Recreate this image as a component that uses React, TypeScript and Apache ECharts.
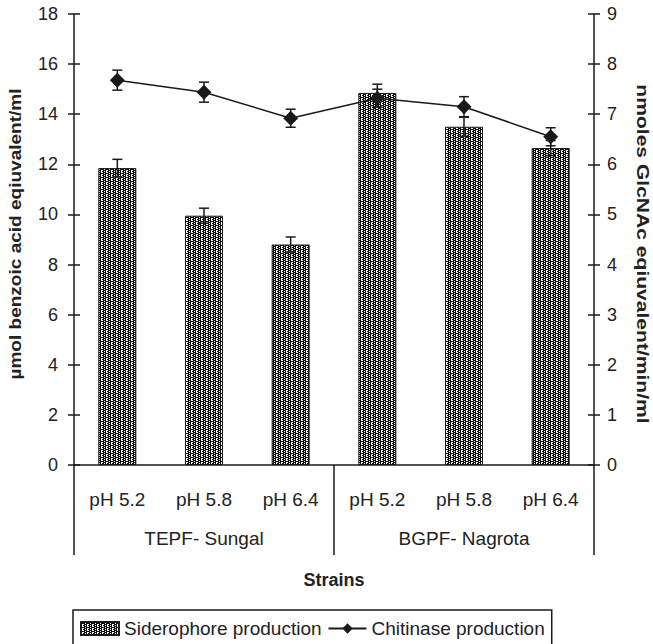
import React, { useEffect, useRef } from "react";
import * as echarts from "echarts";

const categories = ["pH 5.2", "pH 5.8", "pH 6.4", "pH 5.2", "pH 5.8", "pH 6.4"];
const groups = ["TEPF- Sungal", "BGPF- Nagrota"];
const siderophore = [11.85, 9.95, 8.8, 14.85, 13.5, 12.65];
const siderophoreErr = [0.35, 0.3, 0.3, 0.35, 0.38, 0.3];
const chitinase = [7.68, 7.44, 6.92, 7.32, 7.15, 6.55];
const chitinaseErr = [0.2, 0.2, 0.18, 0.18, 0.2, 0.18];

const leftTitle = "µmol benzoic acid eqiuvalent/ml";
const rightTitle = "nmoles GlcNAc eqiuvalent/min/ml";
const FONT = "Arial, 'Liberation Sans', sans-serif";
const INK = "#1a1a1a";

function makePattern(): HTMLCanvasElement {
  const c = document.createElement("canvas");
  c.width = 5;
  c.height = 4;
  const ctx = c.getContext("2d")!;
  ctx.fillStyle = "#0d0d0d";
  ctx.fillRect(0, 0, 5, 4);
  ctx.fillStyle = "#fff";
  const white = [
    [1, 0], [1, 2], [1, 3],
    [2, 0], [2, 2],
    [4, 1], [4, 3],
  ];
  white.forEach(([x, y]) => ctx.fillRect(x, y, 1, 1));
  return c;
}

function errRender(params: any, api: any) {
  const x = api.value(0);
  const v = api.value(1);
  const e = api.value(2);
  const top = api.coord([x, v + e]);
  const bot = api.coord([x, v - e]);
  const hw = 5;
  const style = { stroke: INK, lineWidth: 1.5 };
  return {
    type: "group",
    children: [
      { type: "line", shape: { x1: top[0], y1: top[1], x2: bot[0], y2: bot[1] }, style },
      { type: "line", shape: { x1: top[0] - hw, y1: top[1], x2: top[0] + hw, y2: top[1] }, style },
      { type: "line", shape: { x1: bot[0] - hw, y1: bot[1], x2: bot[0] + hw, y2: bot[1] }, style },
    ],
  };
}

export default function App() {
  const ref = useRef<HTMLDivElement>(null);
  useEffect(() => {
    if (!ref.current) return;
    const chart = echarts.init(ref.current, null, { renderer: "svg" });
    const pattern = { image: makePattern(), repeat: "repeat" };
    const axisLine = { show: true, lineStyle: { color: INK, width: 1.5 } };
    const tickOut = { show: true, length: 6, lineStyle: { color: INK, width: 1.5 } };
    const tickIn = { show: true, inside: true, length: 6, lineStyle: { color: INK, width: 1.5 } };
    const yLabel = { color: "#222", fontSize: 18, fontFamily: FONT };
    const xLabel = { color: "#222", fontSize: 19, fontFamily: FONT };
    const option: any = {
      animation: false,
      backgroundColor: "#fff",
      grid: { left: 74, right: 59, top: 14, bottom: 179, containLabel: false },
      xAxis: [
        {
          type: "category",
          data: categories,
          position: "bottom",
          axisLine: { show: true, lineStyle: { color: INK, width: 1.5 } },
          axisTick: { show: false },
          axisLabel: { ...xLabel, margin: 25, interval: 0 },
          name: "Strains",
          nameLocation: "middle",
          nameGap: 106,
          nameTextStyle: { color: "#222", fontSize: 18, fontWeight: "bold", fontFamily: FONT },
        },
        {
          type: "category",
          data: groups,
          position: "bottom",
          axisLine: { show: false },
          axisTick: { show: true, length: 90, interval: 0, lineStyle: { color: INK, width: 1.5 } },
          axisLabel: { ...xLabel, margin: 64, interval: 0 },
        },
      ],
      yAxis: [
        {
          type: "value", min: 0, max: 18, interval: 2, position: "left",
          axisLine, axisTick: tickOut, splitLine: { show: false },
          axisLabel: { ...yLabel, margin: 16 },
        },
        {
          type: "value", min: 0, max: 9, interval: 1, position: "right",
          axisLine, axisTick: tickOut, splitLine: { show: false },
          axisLabel: { ...yLabel, margin: 13 },
        },
        {
          type: "value", min: 0, max: 18, interval: 2, position: "left",
          axisLine: { show: false }, axisTick: tickIn, splitLine: { show: false },
          axisLabel: { show: false },
        },
        {
          type: "value", min: 0, max: 9, interval: 1, position: "right",
          axisLine: { show: false }, axisTick: tickIn, splitLine: { show: false },
          axisLabel: { show: false },
        },
      ],
      legend: {
        data: [
          { name: "Siderophore production", icon: "rect" },
          { name: "Chitinase production" },
        ],
        left: 73,
        top: 610,
        orient: "horizontal",
        borderColor: INK,
        borderWidth: 1.5,
        borderRadius: 0,
        padding: [9, 7, 20, 7],
        itemGap: 6,
        itemWidth: 38,
        itemHeight: 13,
        textStyle: { color: "#222", fontSize: 19, fontFamily: FONT },
      },
      graphic: [
        {
          type: "text", x: 15.5, y: 234, rotation: Math.PI / 2, scaleX: 1.12,
          style: { text: leftTitle, align: "center", verticalAlign: "middle", font: `bold 17px ${FONT}`, fill: "#222" },
        },
        {
          type: "text", x: 643, y: 254, rotation: -Math.PI / 2, scaleX: 1.24,
          style: { text: rightTitle, align: "center", verticalAlign: "middle", font: `bold 17px ${FONT}`, fill: "#222" },
        },
      ],
      series: [
        {
          name: "Siderophore production",
          type: "bar",
          xAxisIndex: 0,
          yAxisIndex: 0,
          data: siderophore,
          barWidth: 38,
          itemStyle: { color: pattern, borderColor: INK, borderWidth: 1 },
          z: 2,
        },
        {
          type: "custom",
          name: "sidErr",
          xAxisIndex: 0,
          yAxisIndex: 0,
          renderItem: errRender,
          encode: { x: 0, y: 1 },
          data: siderophore.map((v, i) => [i, v, siderophoreErr[i]]),
          z: 3,
        },
        {
          name: "Chitinase production",
          type: "line",
          xAxisIndex: 0,
          yAxisIndex: 1,
          data: chitinase,
          symbol: "diamond",
          symbolSize: 15,
          lineStyle: { color: INK, width: 1.5 },
          itemStyle: { color: INK },
          z: 4,
        },
        {
          type: "custom",
          name: "chiErr",
          xAxisIndex: 0,
          yAxisIndex: 1,
          renderItem: errRender,
          encode: { x: 0, y: 1 },
          data: chitinase.map((v, i) => [i, v, chitinaseErr[i]]),
          z: 5,
        },
      ],
    };
    chart.setOption(option);
    return () => chart.dispose();
  }, []);
  return (
    <div
      ref={ref}
      style={{ position: "fixed", left: 0, top: 0, width: 653, height: 644, background: "#fff" }}
    />
  );
}
